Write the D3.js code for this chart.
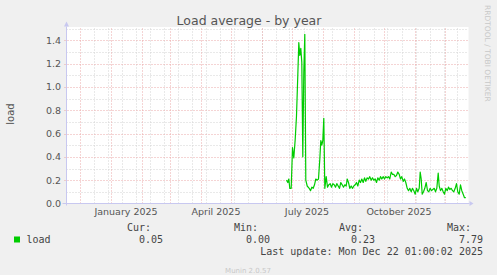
<!DOCTYPE html>
<html>
<head>
<meta charset="utf-8">
<script src="https://cdn.jsdelivr.net/npm/d3@7"></script>
<style>
  body { margin: 0; background: #f0f0f0; }
  svg { display: block; }
</style>
</head>
<body>
<div id="chart"></div>
<script>
'use strict';

// days since 2025-01-01 and load values
const days = [
  176.0, 177.3, 178.3, 179.3, 180.7, 182.0, 183.3, 184.7, 186.0, 187.3,
  188.3, 189.3, 190.3, 191.3, 192.3, 193.3, 194.3, 195.3, 196.7, 198.7,
  200.0, 201.3, 202.7, 204.0, 205.3, 206.7, 208.0, 209.3, 210.3, 211.3,
  212.3, 213.3, 214.3, 215.7, 217.0, 218.3, 219.7, 221.0, 222.3, 223.7,
  225.0, 226.3, 227.7, 229.0, 230.3, 231.7, 233.0, 234.3, 235.7, 236.7,
  238.0, 239.3, 240.7, 242.0, 243.3, 244.7, 246.0, 247.3, 248.7, 250.0,
  251.3, 252.7, 254.0, 255.3, 256.7, 258.0, 259.3, 260.7, 262.0, 263.3,
  264.7, 266.0, 267.3, 268.7, 270.0, 271.3, 272.7, 274.0, 275.3, 276.7,
  278.0, 279.3, 280.7, 282.0, 283.3, 284.7, 286.0, 287.3, 288.7, 290.0,
  291.3, 292.7, 294.0, 295.3, 296.7, 298.0, 299.3, 300.7, 302.0, 303.3,
  304.7, 306.0, 307.3, 308.7, 309.7, 310.7, 311.7, 313.0, 314.3, 315.7,
  317.0, 318.3, 319.7, 321.0, 322.3, 323.7, 325.0, 326.3, 327.7, 328.7,
  330.0, 331.3, 332.7, 334.0, 335.3, 336.7, 338.0, 339.3, 340.7, 342.0,
  343.3, 344.7, 346.0, 347.3, 348.7, 350.0, 351.3, 352.7, 354.0, 355.3
];
const load = [
  0.20, 0.18, 0.21, 0.13, 0.13, 0.48, 0.39, 0.55, 0.75, 1.10,
  1.38, 1.27, 1.33, 1.21, 0.40, 1.13, 1.45, 0.20, 0.15, 0.13,
  0.11, 0.14, 0.13, 0.16, 0.21, 0.20, 0.21, 0.38, 0.54, 0.50,
  0.54, 0.73, 0.13, 0.23, 0.14, 0.16, 0.17, 0.14, 0.17, 0.16,
  0.14, 0.17, 0.15, 0.13, 0.18, 0.16, 0.14, 0.16, 0.15, 0.21,
  0.18, 0.13, 0.15, 0.13, 0.15, 0.16, 0.18, 0.15, 0.20, 0.18,
  0.21, 0.18, 0.22, 0.19, 0.22, 0.21, 0.23, 0.20, 0.22, 0.20,
  0.21, 0.18, 0.22, 0.20, 0.23, 0.21, 0.23, 0.21, 0.23, 0.22,
  0.23, 0.21, 0.27, 0.25, 0.25, 0.23, 0.24, 0.27, 0.25, 0.21,
  0.23, 0.19, 0.21, 0.18, 0.13, 0.11, 0.13, 0.10, 0.13, 0.11,
  0.08, 0.13, 0.10, 0.13, 0.27, 0.21, 0.08, 0.10, 0.13, 0.18,
  0.11, 0.10, 0.13, 0.11, 0.12, 0.13, 0.10, 0.13, 0.26, 0.15,
  0.11, 0.13, 0.10, 0.08, 0.13, 0.11, 0.14, 0.12, 0.13, 0.11,
  0.10, 0.13, 0.17, 0.10, 0.08, 0.16, 0.11, 0.08, 0.05, 0.05
];

const yTicks = [0, 0.2, 0.4, 0.6, 0.8, 1.0, 1.2, 1.4];
const yMinor = [0.1, 0.3, 0.5, 0.7, 0.9, 1.1, 1.3, 1.5];
const xLabels = ['2025-01-01', '2025-04-01', '2025-07-01', '2025-10-01'];
const statNames = ['Cur:', 'Min:', 'Avg:', 'Max:'];
const statValues = ['0.05', '0.00', '0.23', '7.79'];
const lastUpdate = 'Last update: Mon Dec 22 01:00:02 2025';

const W = 497, H = 275;
const pLeft = 66.5, pRight = 468.5, pTop = 28.5, pBottom = 203.5;
const DAY = 864e5;
const jan1 = Date.UTC(2025, 0, 1);
const start = new Date(Date.UTC(2024, 10, 18));
const end = new Date(start.getTime() + (pRight - pLeft) * DAY);

const x = d3.scaleUtc().domain([start, end]).range([pLeft, pRight]);
const y = d3.scaleLinear().domain([0, 1.5]).range([pBottom, pTop]);

const svg = d3.select('#chart').append('svg')
  .attr('width', W).attr('height', H);

svg.append('rect').attr('width', W).attr('height', H).attr('fill', '#f0f0f0');
svg.append('rect')
  .attr('x', pLeft).attr('y', pTop - 1.5)
  .attr('width', pRight - pLeft).attr('height', pBottom - pTop + 1.5)
  .attr('fill', '#fff');

const grid = svg.append('g');
const minorColor = '#d2d2d2';
const majorColor = '#eba9a9';

// minor vertical grid, every two weeks
const minorDays = d3.utcDay.range(new Date(Date.UTC(2024, 11, 15)), end, 14);
grid.selectAll('.vmin').data(minorDays).enter().append('line')
  .attr('x1', d => Math.round(x(d)) + 0.5).attr('x2', d => Math.round(x(d)) + 0.5)
  .attr('y1', pTop).attr('y2', pBottom)
  .attr('stroke', minorColor).attr('stroke-dasharray', '1,2');

grid.selectAll('.hmin').data(yMinor).enter().append('line')
  .attr('x1', pLeft).attr('x2', pRight)
  .attr('y1', d => Math.round(y(d)) + 0.5).attr('y2', d => Math.round(y(d)) + 0.5)
  .attr('stroke', minorColor).attr('stroke-dasharray', '1,2');

// major grid: months and 0.2 steps
const months = d3.utcMonth.range(start, end);
grid.selectAll('.vmaj').data(months).enter().append('line')
  .attr('x1', d => Math.round(x(d)) + 0.5).attr('x2', d => Math.round(x(d)) + 0.5)
  .attr('y1', pTop).attr('y2', pBottom + 2)
  .attr('stroke', majorColor).attr('stroke-dasharray', '1,2');

grid.selectAll('.hmaj').data(yTicks.slice(1)).enter().append('line')
  .attr('x1', pLeft - 2).attr('x2', pRight)
  .attr('y1', d => Math.round(y(d)) + 0.5).attr('y2', d => Math.round(y(d)) + 0.5)
  .attr('stroke', majorColor).attr('stroke-dasharray', '1,2');

// axes
const axisColor = '#c8c8f0';
svg.append('line')
  .attr('x1', pLeft - 4).attr('x2', pRight + 1)
  .attr('y1', pBottom).attr('y2', pBottom)
  .attr('stroke', axisColor);
svg.append('line')
  .attr('x1', pLeft).attr('x2', pLeft)
  .attr('y1', pBottom + 2).attr('y2', pTop - 2)
  .attr('stroke', axisColor);
svg.append('path')
  .attr('d', `M${pRight + 1},${pBottom - 2.5}L${pRight + 5},${pBottom}L${pRight + 1},${pBottom + 2.5}Z`)
  .attr('fill', axisColor);
svg.append('path')
  .attr('d', `M${pLeft - 2.5},${pTop - 2}L${pLeft},${pTop - 7}L${pLeft + 2.5},${pTop - 2}Z`)
  .attr('fill', axisColor);

const sans = 'DejaVu Sans, sans-serif';
const mono = 'DejaVu Sans Mono, monospace';

// y tick labels
svg.selectAll('.ylab').data(yTicks).enter().append('text')
  .attr('x', 61).attr('y', d => y(d) + 3.5)
  .attr('text-anchor', 'end')
  .attr('font-family', sans).attr('font-size', 9.5).attr('fill', '#555')
  .text(d3.format('.1f'));

// x labels, centred in the middle of their month
const fmt = d3.utcFormat('%B %Y');
svg.selectAll('.xlab').data(xLabels.map(d => new Date(d + 'T00:00:00Z'))).enter().append('text')
  .attr('x', d => x(new Date(d.getTime() + 15.5 * DAY)))
  .attr('y', 214.5)
  .attr('text-anchor', 'middle')
  .attr('font-family', sans).attr('font-size', 9.5).attr('fill', '#555')
  .text(fmt);

// data line
const points = days.map((d, i) => [new Date(jan1 + d * DAY), load[i]]);
svg.append('path')
  .datum(points)
  .attr('fill', 'none')
  .attr('stroke', '#00cc00')
  .attr('stroke-width', 1.2)
  .attr('stroke-linejoin', 'round')
  .attr('d', d3.line().x(d => x(d[0])).y(d => y(d[1])));

// title and side texts
svg.append('text')
  .attr('x', 249).attr('y', 24.5)
  .attr('text-anchor', 'middle')
  .attr('font-family', sans).attr('font-size', 12.5).attr('fill', '#555')
  .text('Load average - by year');

svg.append('text')
  .attr('transform', 'translate(14,114) rotate(-90)')
  .attr('text-anchor', 'middle')
  .attr('font-family', sans).attr('font-size', 10).attr('fill', '#555')
  .text('load');

const credit = 'RRDTOOL / TOBI OETIKER';
const side = svg.append('text')
  .attr('transform', 'translate(485,5) rotate(90)')
  .attr('font-family', sans).attr('font-size', 7.5).attr('fill', '#c8c8c8')
  .text(credit);
// stretch the credit to the length it has in the original
const sideLen = side.node().getComputedTextLength();
side.attr('letter-spacing', Math.max(0, (96 - sideLen) / (credit.length - 1)));

// legend
const colsRight = [151, 258, 363, 471];
svg.selectAll('.shead').data(statNames).enter().append('text')
  .attr('x', (d, i) => colsRight[i]).attr('y', 230.5)
  .attr('text-anchor', 'end')
  .attr('font-family', mono).attr('font-size', 10).attr('fill', '#444')
  .text(d => d);

svg.selectAll('.sval').data(statValues).enter().append('text')
  .attr('x', (d, i) => colsRight[i] + 12).attr('y', 242.5)
  .attr('text-anchor', 'end')
  .attr('font-family', mono).attr('font-size', 10).attr('fill', '#444')
  .text(d => d);

svg.append('rect')
  .attr('x', 14).attr('y', 236.5).attr('width', 6).attr('height', 6)
  .attr('fill', '#00cc00');
svg.append('text')
  .attr('x', 26.5).attr('y', 242.5)
  .attr('font-family', mono).attr('font-size', 10).attr('fill', '#444')
  .text('load');

svg.append('text')
  .attr('x', 483).attr('y', 254.5)
  .attr('text-anchor', 'end')
  .attr('font-family', mono).attr('font-size', 10).attr('fill', '#444')
  .text(lastUpdate);

svg.append('text')
  .attr('x', 248).attr('y', 273)
  .attr('text-anchor', 'middle')
  .attr('font-family', sans).attr('font-size', 7).attr('fill', '#c8c8c8')
  .text('Munin 2.0.57');
</script>
</body>
</html>
